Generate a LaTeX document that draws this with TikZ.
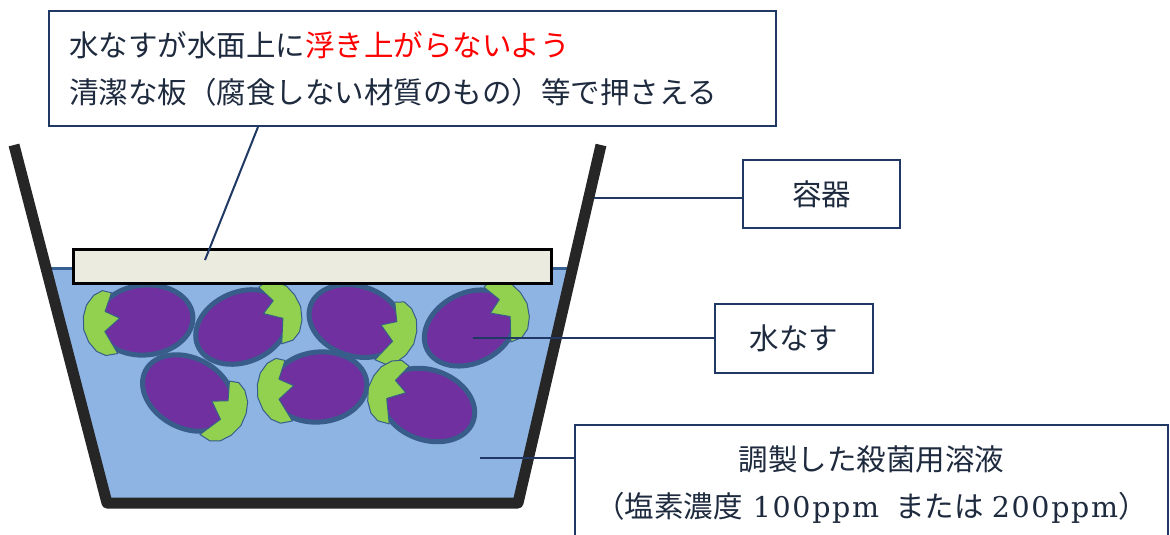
\documentclass[tikz,border=0pt]{standalone}
\usepackage{fontspec}
\newfontfamily\jp{Noto Sans CJK JP}
\newfontfamily\num[LetterSpace=6]{DejaVu Serif}
\usetikzlibrary{positioning}
\definecolor{boxline}{RGB}{31,56,100}
\definecolor{labeltext}{RGB}{30,42,62}
\definecolor{water}{RGB}{142,180,227}
\definecolor{surface}{RGB}{55,96,146}
\definecolor{nasubody}{RGB}{112,48,160}
\definecolor{nasuedge}{RGB}{56,93,138}
\definecolor{heta}{RGB}{146,208,80}
\definecolor{boardfill}{RGB}{235,235,224}
\definecolor{wallgray}{RGB}{38,38,38}
\newcommand{\ppm}[1]{{\num\fontsize{28.5}{47}\selectfont #1}}

\begin{document}
\begin{tikzpicture}[x=1pt,y=-1pt,
  callout/.style={draw=boxline,line width=2pt,fill=white,text=labeltext,font=\jp\fontsize{29.5}{47}\selectfont,inner sep=0pt,align=center},
  leader/.style={draw=boxline,line width=2pt},
  wall/.style={draw=wallgray,line width=11pt,line join=round},
  nasu/.pic={
    \draw[fill=nasubody,draw=nasuedge,line width=5pt] (0,0) ellipse [x radius=48pt,y radius=35pt];
    \draw[fill=heta,draw=nasuedge,line width=1pt,line join=round] (31,-30) -- (39,-12) -- (25,-4) -- (41,8) -- (30,31) -- (42,32) -- (51,27) -- (58,17) -- (62,4) -- (61,-9) -- (57,-20) -- (49,-29) -- (40,-33) -- cycle;
  }
]
\clip (0,0) rectangle (1170,535);
\fill[white] (0,0) rectangle (1170,535);

\fill[water] (45,268) -- (107,503) -- (518,503) -- (572,268) -- cycle;
\draw[surface,line width=3pt] (45,268) -- (572,268);

\pic[xscale=-1,rotate=-5] at (145,320) {nasu};
\pic[rotate=23] at (242,327) {nasu};
\pic[rotate=-18] at (356,321) {nasu};
\pic[rotate=27] at (470,328) {nasu};
\pic[rotate=-28] at (188,393) {nasu};
\pic[xscale=-1,rotate=-6] at (319,387) {nasu};
\pic[xscale=-1,rotate=20] at (428,405) {nasu};

\node[draw=black,line width=3pt,fill=boardfill,anchor=north west,minimum width=478pt,minimum height=34pt,inner sep=0pt] (ita) at (72,248) {};

\draw[wall] (14,145) -- (107,503) -- (518,503) -- (601,145);

\node[callout,anchor=north west,minimum width=727pt,minimum height=115pt,text width=687pt,align=left] (note) at (48,10)
  {水なすが水面上に\textcolor{red}{浮き上がらないよう}\\清潔な板（腐食しない材質のもの）等で押さえる};
\node[callout,minimum width=157pt,minimum height=68pt] (yoki) at (821.5,194) {容器};
\node[callout,minimum width=158pt,minimum height=69pt] (nasulabel) at (794,338.5) {水なす};
\node[callout,minimum width=593pt,minimum height=120pt] (eki) at (871.5,485)
  {調製した殺菌用溶液\\（塩素濃度\hspace{10pt}\ppm{100ppm}\hspace{16pt}または\hspace{8pt}\ppm{200ppm}）};

\coordinate (itaue) at (205,260);
\coordinate (kabe) at (594,198);
\coordinate (naka) at (473,338);
\coordinate (mizu) at (480,458);
\draw[leader] (itaue) -- ([xshift=210pt]note.south west);
\draw[leader] (kabe) -- (kabe -| yoki.west);
\draw[leader] (naka) -- (naka -| nasulabel.west);
\draw[leader] (mizu) -- (mizu -| eki.west);
\end{tikzpicture}
\end{document}
